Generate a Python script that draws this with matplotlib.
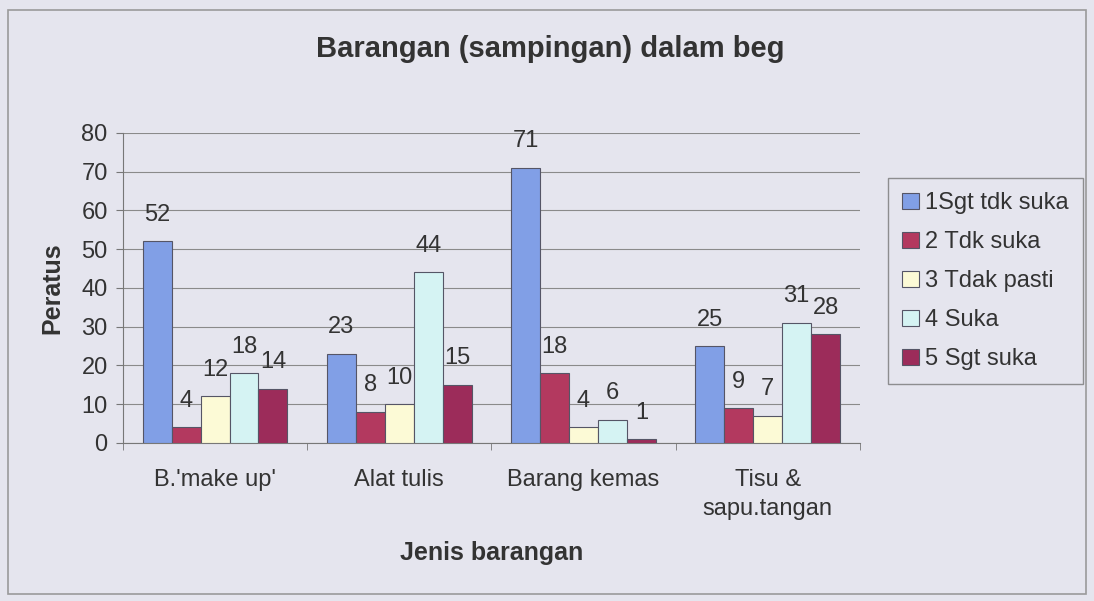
import numpy as np
import matplotlib.pyplot as plt
from matplotlib.patches import Rectangle

plt.rcParams["font.family"] = ["Liberation Sans", "DejaVu Sans"]

# Data
categories = ["B.'make up'", "Alat tulis", "Barang kemas", "Tisu &\nsapu.tangan"]
series = ["1Sgt tdk suka", "2 Tdk suka", "3 Tdak pasti", "4 Suka", "5 Sgt suka"]
sgt_tdk_suka = [52, 23, 71, 25]
tdk_suka = [4, 8, 18, 9]
tdak_pasti = [12, 10, 4, 7]
suka = [18, 44, 6, 31]
sgt_suka = [14, 15, 1, 28]
values = [sgt_tdk_suka, tdk_suka, tdak_pasti, suka, sgt_suka]
colors = ["#819fe6", "#b3395f", "#fcfad6", "#d5f3f3", "#9c2c5a"]

bg = "#e5e5ee"
txt = "#333333"

fig = plt.figure(figsize=(10.94, 6.01), dpi=100, facecolor=bg)
ax = fig.add_axes([0.1124, 0.263, 0.6736, 0.516], facecolor=bg)

# Outer border of the chart
fig.patches.append(Rectangle((0.007, 0.012), 0.986, 0.972, transform=fig.transFigure,
                             fill=False, edgecolor="#9a9a9a", linewidth=1.2))

x = np.arange(len(categories))
w = 0.157
for i, (name, vals, c) in enumerate(zip(series, values, colors)):
    pos = x - 2 * w + i * w
    bars = ax.bar(pos, vals, w, color=c, edgecolor="#555566", linewidth=0.8,
                  label=name, zorder=3)
    for b, v in zip(bars, vals):
        ax.text(b.get_x() + b.get_width() / 2, v + 4, str(v), ha="center",
                va="bottom", fontsize=17, color=txt)

ax.set_xlim(-0.5, len(categories) - 0.5)
ax.set_ylim(0, 80)
ax.set_yticks(range(0, 81, 10))
ax.yaxis.grid(True, color="#8a8a8a", linewidth=0.8, zorder=0)
ax.set_axisbelow(True)

ax.set_xticks(x)
ax.set_xticklabels(categories, fontsize=17, color=txt, linespacing=1.4)
ax.set_xticks(np.arange(-0.5, len(categories)), minor=True)
ax.tick_params(axis="x", which="major", length=0, pad=19)
ax.tick_params(axis="x", which="minor", length=5, color="#777777")
ax.tick_params(axis="y", labelsize=17, labelcolor=txt, length=5, color="#777777", pad=6)

for s in ["top", "right"]:
    ax.spines[s].set_visible(False)
for s in ["left", "bottom"]:
    ax.spines[s].set_color("#777777")

ax.set_ylabel("Peratus", fontsize=18, fontweight="bold", color=txt, labelpad=12)
ax.set_xlabel("Jenis barangan", fontsize=18, fontweight="bold", color=txt, labelpad=15)
fig.text(0.503, 0.918, "Barangan (sampingan) dalam beg", ha="center", va="center",
         fontsize=21, fontweight="bold", color=txt)

leg = fig.legend(*ax.get_legend_handles_labels(), loc="upper left",
                 bbox_to_anchor=(0.812, 0.704), fontsize=17,
                 frameon=True, fancybox=False, handlelength=0.7, handleheight=0.7,
                 handletextpad=0.25, labelspacing=0.72, borderpad=0.6, borderaxespad=0)
leg.get_frame().set_facecolor(bg)
leg.get_frame().set_edgecolor("#777777")
for t in leg.get_texts():
    t.set_color(txt)

plt.savefig("out.png", dpi=100, facecolor=bg)
